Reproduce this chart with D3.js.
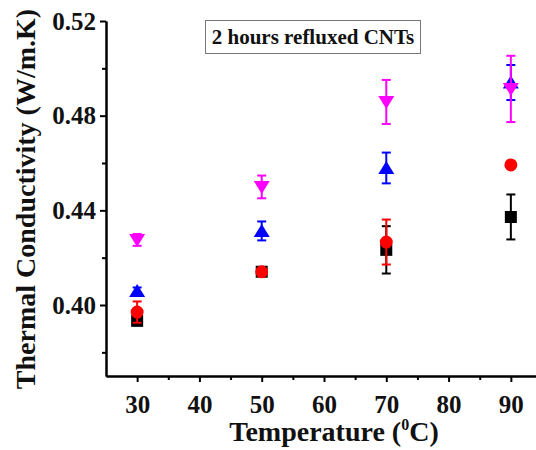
<!DOCTYPE html>
<html>
<head>
<meta charset="utf-8">
<script src="https://cdn.jsdelivr.net/npm/d3@7/dist/d3.min.js"></script>
<style>
  html, body { margin: 0; padding: 0; background: #fff; }
  svg { display: block; }
  text { font-family: "Liberation Serif", "DejaVu Serif", serif; font-weight: bold; }
</style>
</head>
<body>
<svg id="chart" width="536" height="450"></svg>
<script>
// Temperatures (°C) at which conductivity was measured
const temperatures = [30, 50, 70, 90];

// Four samples: mean thermal conductivity and error (W/m.K)
const blackValues   = [0.3933, 0.4140, 0.4233, 0.4372];
const blackErrors   = [0.0015, 0.0010, 0.0100, 0.0095];
const redValues     = [0.3970, 0.4140, 0.4266, 0.4592];
const redErrors     = [0.0045, 0.0010, 0.0095, 0.0010];
const blueValues    = [0.4059, 0.4313, 0.4579, 0.4940];
const blueErrors    = [0.0015, 0.0040, 0.0065, 0.0074];
const magentaValues = [0.4275, 0.4499, 0.4858, 0.4913];
const magentaErrors = [0.0025, 0.0048, 0.0093, 0.0140];

const xTicks = [30, 40, 50, 60, 70, 80, 90];
const xMinorTicks = [35, 45, 55, 65, 75, 85];
const yTicks = [0.40, 0.44, 0.48, 0.52];
const yMinorTicks = [0.38, 0.42, 0.46, 0.50];

const legendTitle = "2 hours refluxed CNTs";

const svg = d3.select("#chart");

const x = d3.scaleLinear().domain([25, 95]).range([106, 542]);
const y = d3.scaleLinear().domain([0.37, 0.52]).range([376, 21]);

// Axes: major ticks with labels, minor ticks without
const xAxis = svg.append("g").attr("transform", `translate(0,${y(0.37)})`)
  .call(d3.axisBottom(x).tickValues(xTicks).tickSize(6).tickSizeOuter(0).tickPadding(8).tickFormat(d3.format("d")));
const xMinor = svg.append("g").attr("transform", `translate(0,${y(0.37)})`)
  .call(d3.axisBottom(x).tickValues(xMinorTicks).tickSize(4).tickSizeOuter(0).tickFormat(""));
const yAxis = svg.append("g").attr("transform", `translate(${x(25)},0)`)
  .call(d3.axisLeft(y).tickValues(yTicks).tickSize(6).tickSizeOuter(0).tickPadding(4).tickFormat(d3.format(".2f")));
const yMinor = svg.append("g").attr("transform", `translate(${x(25)},0)`)
  .call(d3.axisLeft(y).tickValues(yMinorTicks).tickSize(4).tickSizeOuter(0).tickFormat(""));

[xAxis, xMinor, yAxis, yMinor].forEach(g => {
  g.selectAll("path.domain").attr("stroke", "#000").attr("stroke-width", 2);
  g.selectAll(".tick line").attr("stroke", "#000").attr("stroke-width", 2);
  g.selectAll(".tick text").attr("fill", "#111").style("font-size", "25px")
    .style("font-family", "'Liberation Serif', serif").style("font-weight", "bold");
});
xAxis.selectAll(".tick text").attr("dy", "0.9em");

// Axis titles
svg.append("text")
  .attr("x", 334).attr("y", 441)
  .attr("text-anchor", "middle")
  .style("font-size", "28px").attr("fill", "#111")
  .call(t => {
    t.append("tspan").text("Temperature (");
    t.append("tspan").attr("dy", -11).style("font-size", "16px").text("0");
    t.append("tspan").attr("dy", 11).text("C)");
  });

svg.append("text")
  .attr("transform", "translate(35,199) rotate(-90)")
  .attr("text-anchor", "middle")
  .style("font-size", "28px").attr("fill", "#111")
  .text("Thermal Conductivity (W/m.K)");

// Title box
const box = svg.append("g");
box.append("rect").attr("x", 205.5).attr("y", 20.5).attr("width", 215).attr("height", 33)
  .attr("fill", "#fff").attr("stroke", "#777").attr("stroke-width", 1);
box.append("text").attr("x", 313).attr("y", 44).attr("text-anchor", "middle")
  .style("font-size", "21px").attr("fill", "#111").text(legendTitle);

// Marker shapes
const shapes = {
  square: (cx, cy) => `M${cx - 6},${cy - 6}h12v12h-12Z`,
  circle: (cx, cy) => `M${cx - 6.5},${cy}a6.5,6.5 0 1,0 13,0a6.5,6.5 0 1,0 -13,0Z`,
  up:     (cx, cy) => `M${cx},${cy - 7}L${cx + 8},${cy + 6}L${cx - 8},${cy + 6}Z`,
  down:   (cx, cy) => `M${cx},${cy + 7}L${cx + 8},${cy - 6}L${cx - 8},${cy - 6}Z`
};

const series = [
  { values: blackValues,   errors: blackErrors,   color: "#000000", shape: "square" },
  { values: redValues,     errors: redErrors,     color: "#ff0000", shape: "circle" },
  { values: blueValues,    errors: blueErrors,    color: "#0000ff", shape: "up" },
  { values: magentaValues, errors: magentaErrors, color: "#ff00ff", shape: "down" }
];

series.forEach(s => {
  const pts = temperatures.map((t, i) => ({ t, v: s.values[i], e: s.errors[i] }));
  const g = svg.append("g");
  // error bars
  const eb = g.selectAll("g.err").data(pts).join("g").attr("class", "err")
    .attr("stroke", s.color).attr("stroke-width", 2);
  eb.append("line")
    .attr("x1", d => x(d.t)).attr("x2", d => x(d.t))
    .attr("y1", d => y(d.v + d.e)).attr("y2", d => y(d.v - d.e));
  eb.append("line")
    .attr("x1", d => x(d.t) - 4.5).attr("x2", d => x(d.t) + 4.5)
    .attr("y1", d => y(d.v + d.e)).attr("y2", d => y(d.v + d.e));
  eb.append("line")
    .attr("x1", d => x(d.t) - 4.5).attr("x2", d => x(d.t) + 4.5)
    .attr("y1", d => y(d.v - d.e)).attr("y2", d => y(d.v - d.e));
  // markers
  g.selectAll("path.mark").data(pts).join("path").attr("class", "mark")
    .attr("d", d => shapes[s.shape](x(d.t), y(d.v)))
    .attr("fill", s.color);
});
</script>
</body>
</html>
